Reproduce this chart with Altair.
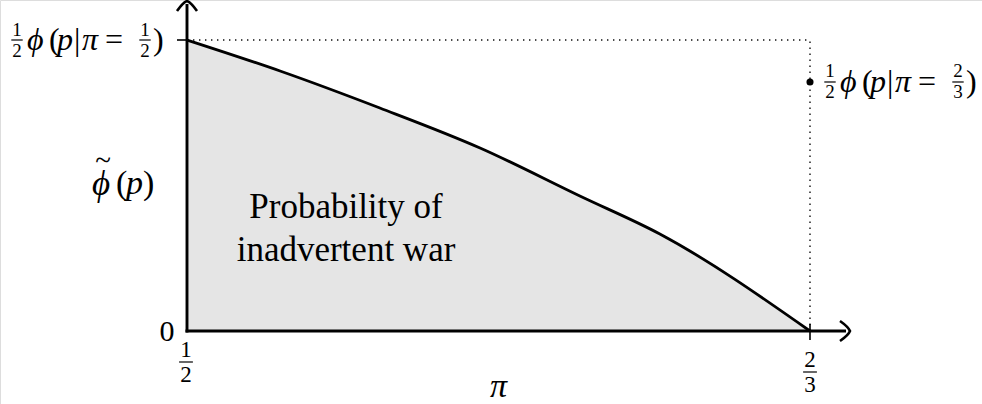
import altair as alt
import pandas as pd

# ---- data -------------------------------------------------------------
# pi on the horizontal axis, phi-tilde(p) on the vertical axis, expressed in
# units of (1/2) phi(p | pi = 1/2)
pi_vals = [0.5, 0.5249, 0.5516, 0.5784, 0.6051, 0.6265, 2 / 3]
phi_vals = [1.0, 0.8935, 0.7663, 0.6289, 0.4639, 0.3333, 0.0]

# the isolated value (1/2) phi(p | pi = 2/3) at pi = 2/3
point_pi = [2 / 3]
point_phi = [0.8557]

# tick labels
x_tick_fracs = [("1", "2"), ("2", "3")]
y_tick_zero = "0"

# ---- layout -------------------------------------------------------------
W, H = 982, 404
X0_PX, X1_PX = 187, 810   # pixel columns of pi = 1/2 and pi = 2/3
Y0_PX, Y1_PX = 331, 40    # pixel rows of phi = 0 and phi = 1
KX = (X1_PX - X0_PX) / (2 / 3 - 0.5)
KY = (Y0_PX - Y1_PX) / 1.0


def px_x(px):
    return 0.5 + (px - X0_PX) / KX


def px_y(py):
    return (Y0_PX - py) / KY


X_DOM = [px_x(0), px_x(W)]
Y_DOM = [px_y(H), px_y(0)]

SERIF = "Liberation Serif"
LABEL = 32      # main math size
SCRIPT = 20     # fraction digits

xs = alt.Scale(domain=X_DOM, nice=False, zero=False)
ys = alt.Scale(domain=Y_DOM, nice=False, zero=False)


def X(field="pi"):
    return alt.X(f"{field}:Q", scale=xs, axis=None)


def Y(field="phi"):
    return alt.Y(f"{field}:Q", scale=ys, axis=None)


def anchor(pi, phi):
    return pd.DataFrame({"pi": [pi], "phi": [phi]})


def txt(pi, phi, text, dx=0, dy=0, size=LABEL, italic=False, align="left",
        baseline="middle", font=SERIF):
    return alt.Chart(anchor(pi, phi)).mark_text(
        text=text, dx=dx, dy=dy, fontSize=size, font=font,
        fontStyle="italic" if italic else "normal",
        align=align, baseline=baseline, color="black",
    ).encode(x=X(), y=Y())


def hrule(px_a, px_b, py, width=1.2, dash=None, color="black"):
    df = pd.DataFrame({"pi": [px_x(px_a)], "pi2": [px_x(px_b)], "phi": [px_y(py)]})
    kw = dict(color=color, strokeWidth=width)
    if dash:
        kw["strokeDash"] = dash
    return alt.Chart(df).mark_rule(**kw).encode(x=X(), x2="pi2:Q", y=Y())


def vrule(px, py_a, py_b, width=1.2, dash=None, color="black"):
    df = pd.DataFrame({"pi": [px_x(px)], "phi": [px_y(py_a)], "phi2": [px_y(py_b)]})
    kw = dict(color=color, strokeWidth=width)
    if dash:
        kw["strokeDash"] = dash
    return alt.Chart(df).mark_rule(**kw).encode(x=X(), y=Y(), y2="phi2:Q")


def frac(pi, phi, num, den, dx, dy, size=SCRIPT, gap=10.5):
    """stacked fraction centred at (dx, dy) pixels from the anchor"""
    ax = X0_PX + (pi - 0.5) * KX + dx
    ay = Y0_PX - phi * KY + dy
    hw = size * 0.3
    return [
        txt(pi, phi, num, dx=dx, dy=dy - gap, size=size, align="center"),
        hrule(ax - hw, ax + hw, ay, width=1.2),
        txt(pi, phi, den, dx=dx, dy=dy + gap, size=size, align="center"),
    ]


def half_phi_label(pi, phi, base, num2, den2):
    """(1/2) phi(p | pi = num2/den2) drawn glyph by glyph"""
    parts = frac(pi, phi, "1", "2", base + 20, 0, size=19)
    parts += [
        txt(pi, phi, "ϕ", dx=base + 30, italic=True),
        txt(pi, phi, "(", dx=base + 52),
        txt(pi, phi, "p", dx=base + 60, italic=True),
        txt(pi, phi, "|", dx=base + 77),
        txt(pi, phi, "π", dx=base + 85, italic=True),
        txt(pi, phi, "=", dx=base + 108),
    ]
    parts += frac(pi, phi, num2, den2, base + 148, 0, size=19)
    parts.append(txt(pi, phi, ")", dx=base + 156))
    return parts


curve = pd.DataFrame({"pi": pi_vals, "phi": phi_vals})
point = pd.DataFrame({"pi": point_pi, "phi": point_phi})

# ---- marks ------------------------------------------------------------------
area = alt.Chart(curve).mark_area(color="#e5e5e5", interpolate="monotone").encode(
    x=X(), y=Y()
)
line = alt.Chart(curve).mark_line(
    color="black", strokeWidth=2.8, interpolate="monotone"
).encode(x=X(), y=Y())

dots = [
    hrule(X0_PX, X1_PX, Y1_PX, width=1.4, dash=[1.4, 4.6], color="#111111"),
    vrule(X1_PX, Y0_PX, Y1_PX, width=1.4, dash=[1.4, 4.6], color="#111111"),
]

axes = [
    hrule(X0_PX - 1.5, 846, Y0_PX, width=2.9),
    vrule(X0_PX, Y0_PX + 1.5, 4, width=2.9),
    hrule(177, X0_PX, Y1_PX, width=1.6),
    vrule(X1_PX, 324, 340, width=1.6),
]

ARROW = "M -1 1 Q -0.4 0.15 0 0 Q 0.4 0.15 1 1"
tips = pd.DataFrame({
    "pi": [px_x(X0_PX), px_x(850)],
    "phi": [px_y(1), px_y(Y0_PX)],
    "ang": [0, 90],
})
arrows = alt.Chart(tips).mark_point(
    shape=ARROW, filled=False, stroke="black", strokeWidth=2.6, size=400, opacity=1
).encode(x=X(), y=Y(), angle=alt.Angle("ang:Q", scale=None))

dot = alt.Chart(point).mark_circle(size=50, color="black", opacity=1).encode(
    x=X(), y=Y()
)

labels = []
labels += half_phi_label(0.5, 1.0, -190, "1", "2")
labels += half_phi_label(point_pi[0], point_phi[0], 0, "2", "3")

# vertical axis title: phi-tilde(p)
ya_pi, ya_phi = 0.5, px_y(184)
labels += [
    txt(ya_pi, ya_phi, "ϕ", dx=-95, italic=True, size=35),
    txt(ya_pi, ya_phi, "~", dx=-84, dy=-23, size=29, align="center"),
    txt(ya_pi, ya_phi, "(", dx=-71, size=34),
    txt(ya_pi, ya_phi, "p", dx=-61, italic=True, size=34),
    txt(ya_pi, ya_phi, ")", dx=-44, size=34),
]

# tick labels
labels.append(txt(0.5, 0.0, y_tick_zero, dx=-20, dy=1, size=30, align="center"))
labels += frac(0.5, 0.0, x_tick_fracs[0][0], x_tick_fracs[0][1], -1, 31, size=23, gap=12.5)
labels += frac(2 / 3, 0.0, x_tick_fracs[1][0], x_tick_fracs[1][1], 0, 41, size=23, gap=12.5)

# horizontal axis title
labels.append(txt(7 / 12, 0.0, "π", dy=56, italic=True, size=34, align="center"))

# shaded-region caption
caption = alt.Chart(anchor(px_x(346), px_y(218))).mark_text(
    text=["Probability of", "inadvertent war"], fontSize=35, font=SERIF,
    align="center", baseline="alphabetic", lineHeight=43, color="black",
).encode(x=X(), y=Y())

chart = alt.layer(
    area, *dots, caption, line, *axes, arrows, dot, *labels
).properties(
    width=W, height=H, autosize=alt.AutoSizeParams(type="none"), padding=0
).configure_view(stroke=None).configure(background="white")

chart.save("out.html", embed_options={"renderer": "svg", "actions": False})
